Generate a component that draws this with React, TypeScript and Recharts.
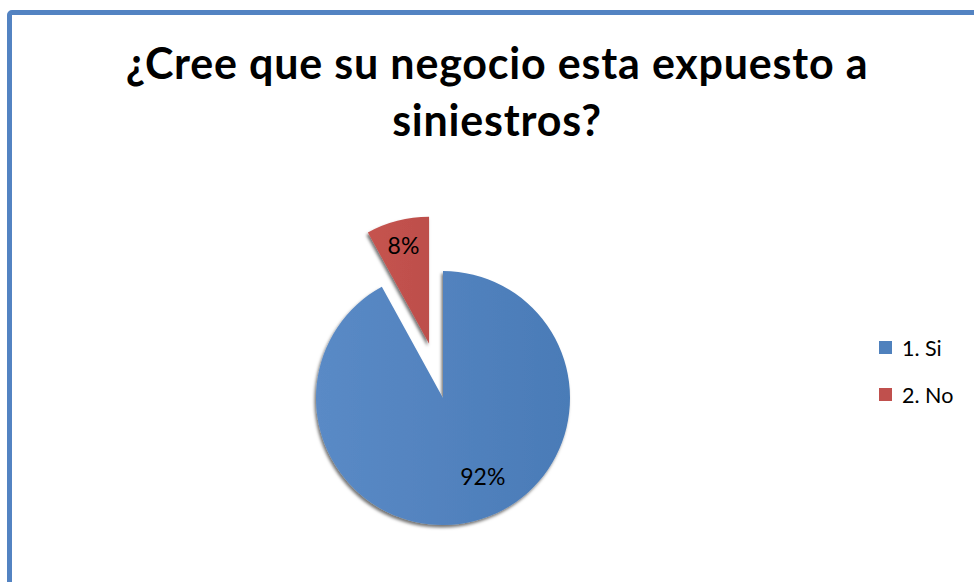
import React from 'react';
import { PieChart, Pie, Cell, Legend } from 'recharts';

const categories = ['1. Si', '2. No'];
const values = [92, 8];
const percentLabels = ['92%', '8%'];
const colors = ['#4f81bd', '#c0504d'];
const gradientIds = ['gradSi', 'gradNo'];
const explodedIndex = 1;

const titleLines = ['¿Cree que su negocio esta expuesto a', 'siniestros?'];

const data = categories.map((name, i) => ({ name, value: values[i] }));

const CX = 443;
const CY = 398;
const R = 127;
const EXPLODE = 56;
const FONT = 'Lato, "Open Sans", sans-serif';

const total = values.reduce((a, b) => a + b, 0);
const before = values.slice(0, explodedIndex).reduce((a, b) => a + b, 0);
const midFrac = (before + values[explodedIndex] / 2) / total;
const midDeg = 90 - 360 * midFrac;
const exDx = EXPLODE * Math.cos((midDeg * Math.PI) / 180);
const exDy = -EXPLODE * Math.sin((midDeg * Math.PI) / 180);

const labelAngleTweak = [11, 1];
const labelRadiusFrac = [0.73, 0.76];

const makeLabel = (showIndex: number) => (props: any) => {
  const { cx, cy, midAngle, outerRadius, index } = props;
  if (index !== showIndex) return null;
  const ang = ((midAngle + labelAngleTweak[index]) * Math.PI) / 180;
  const r = outerRadius * labelRadiusFrac[index];
  const x = cx + r * Math.cos(-ang);
  const y = cy + r * Math.sin(-ang);
  return (
    <text
      x={x}
      y={y}
      dy={-6}
      textAnchor="middle"
      dominantBaseline="central"
      fill="#000"
      style={{ fontFamily: FONT, fontSize: 23 }}
    >
      {percentLabels[index]}
    </text>
  );
};

const LegendContent = () => (
  <div style={{ fontFamily: FONT, fontSize: 21.5, color: '#000' }}>
    {categories.map((c, i) => (
      <div key={c} style={{ display: 'flex', alignItems: 'center', height: 47 }}>
        <span
          style={{
            display: 'inline-block',
            width: 13,
            height: 13,
            background: colors[i],
            marginRight: 10,
          }}
        />
        <span>{c}</span>
      </div>
    ))}
  </div>
);

export default function App() {
  return (
    <div
      style={{
        position: 'absolute',
        left: 0,
        top: 0,
        width: 974,
        height: 582,
        overflow: 'hidden',
        background: '#fff',
      }}
    >
      <div
        style={{
          position: 'absolute',
          left: 7,
          top: 10,
          width: 1100,
          height: 700,
          border: '5px solid #5383c2',
          borderRadius: 5,
          boxSizing: 'border-box',
        }}
      />
      <div
        style={{
          position: 'absolute',
          left: 0,
          top: 0,
          width: 994,
          textAlign: 'center',
          fontFamily: FONT,
          fontWeight: 700,
          fontSize: 43,
          letterSpacing: 0.8,
          color: '#000',
        }}
      >
        {titleLines.map((t, i) => (
          <div
            key={i}
            style={{ position: 'absolute', left: 0, width: 994, top: 38 + i * 57, lineHeight: '50px' }}
          >
            {t}
          </div>
        ))}
      </div>
      <div style={{ position: 'absolute', left: 0, top: 0 }}>
        <PieChart width={974} height={582} margin={{ top: 0, right: 0, bottom: 0, left: 0 }}>
          <defs>
            <linearGradient id={gradientIds[0]} x1="0" y1="0" x2="1" y2="0">
              <stop offset="0%" stopColor="#5a8ac6" />
              <stop offset="100%" stopColor="#4a7bb7" />
            </linearGradient>
            <linearGradient id={gradientIds[1]} x1="0" y1="0" x2="1" y2="0">
              <stop offset="0%" stopColor="#c6534f" />
              <stop offset="100%" stopColor="#bd4f4b" />
            </linearGradient>
            <filter id="pieShadow" x="-20%" y="-20%" width="140%" height="140%">
              <feDropShadow dx="-1.5" dy="2.5" stdDeviation="1.5" floodColor="#000" floodOpacity="0.55" />
            </filter>
          </defs>
          <Pie
            data={data}
            dataKey="value"
            nameKey="name"
            cx={CX}
            cy={CY}
            outerRadius={R}
            startAngle={90}
            endAngle={-270}
            stroke="none"
            labelLine={false}
            label={makeLabel(0)}
            isAnimationActive={false}
            legendType="none"
          >
            {data.map((d, i) => (
              <Cell
                key={d.name}
                fill={i === explodedIndex ? 'transparent' : `url(#${gradientIds[i]})`}
                stroke="none"
                filter={i === explodedIndex ? undefined : 'url(#pieShadow)'}
              />
            ))}
          </Pie>
          <Pie
            data={data}
            dataKey="value"
            nameKey="name"
            cx={CX + exDx}
            cy={CY + exDy}
            outerRadius={R}
            startAngle={90}
            endAngle={-270}
            stroke="none"
            labelLine={false}
            label={makeLabel(explodedIndex)}
            isAnimationActive={false}
            legendType="none"
          >
            {data.map((d, i) => (
              <Cell
                key={d.name}
                fill={i === explodedIndex ? `url(#${gradientIds[i]})` : 'transparent'}
                stroke="none"
                filter={i === explodedIndex ? 'url(#pieShadow)' : undefined}
              />
            ))}
          </Pie>
          <Legend
            layout="vertical"
            verticalAlign="top"
            align="right"
            wrapperStyle={{ left: 879, top: 324, width: 95 }}
            content={<LegendContent />}
          />
        </PieChart>
      </div>
    </div>
  );
}
